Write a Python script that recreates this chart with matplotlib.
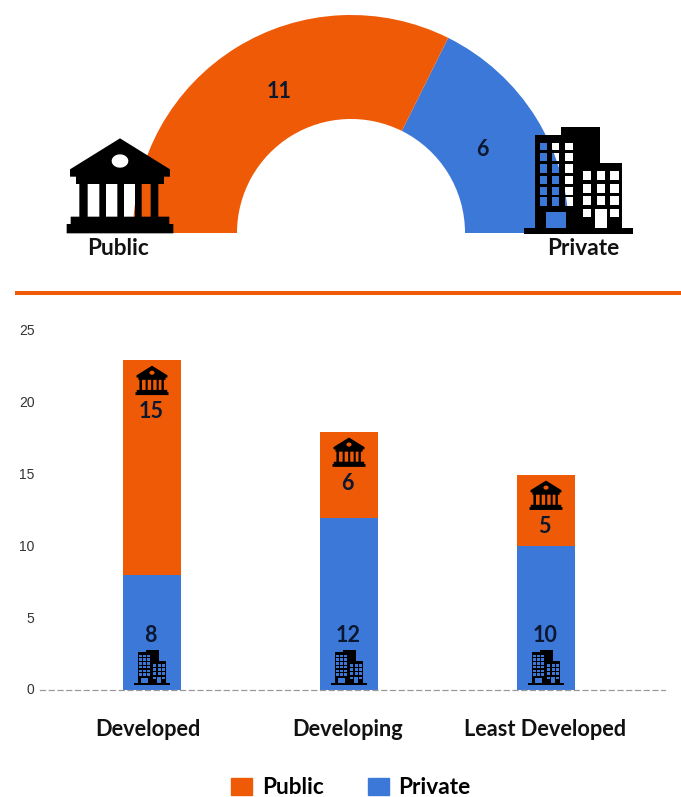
import numpy as np
import matplotlib
matplotlib.use("Agg")
import matplotlib.pyplot as plt
from matplotlib.path import Path
from matplotlib.patches import PathPatch, Patch
from matplotlib.transforms import Affine2D, ScaledTranslation

# ---- data ----
arc_labels = ["Private", "Public"]
arc_values = [6, 11]
categories = ["Developed", "Developing", "Least Developed"]
public_values = [15, 6, 5]
private_values = [8, 12, 10]
y_ticks = [0, 5, 10, 15, 20, 25]

ORANGE = "#EE5A05"
BLUE = "#3C78D8"
INK = "#0C1730"
W, H = 681, 797
plt.rcParams["font.family"] = ["Lato", "DejaVu Sans"]


def fx(px):
    return px / W


def fy(py):
    return 1 - py / H


def axes_px(left, top, right, bottom):
    return fig.add_axes([fx(left), fy(bottom), (right - left) / W, (bottom - top) / H])


def ring(points, hole=False):
    p = np.asarray(points, float)
    area = 0.5 * np.sum(p[:, 0] * np.roll(p[:, 1], -1) - np.roll(p[:, 0], -1) * p[:, 1])
    if (area > 0) == hole:
        p = p[::-1]
    verts = np.vstack([p, p[0]])
    codes = [Path.MOVETO] + [Path.LINETO] * (len(p) - 1) + [Path.CLOSEPOLY]
    return verts, codes


def box(x0, y0, x1, y1, hole=False):
    return ring([(x0, y0), (x1, y0), (x1, y1), (x0, y1)], hole)


def compound(parts):
    return Path(np.vstack([v for v, _ in parts]), sum((c for _, c in parts), []))


def bank_icon():
    outline = [(240, 85), (390, 178), (390, 200), (372, 200), (372, 222), (355, 222),
               (355, 320), (388, 320), (388, 342), (400, 342), (400, 370), (80, 370),
               (80, 342), (92, 342), (92, 320), (118, 320), (118, 222), (108, 222),
               (108, 200), (90, 200), (90, 178)]
    parts = [ring(outline)]
    for a, b in [(143, 178), (198, 232), (252, 285), (305, 332)]:
        parts.append(box(a, 222, b, 320, True))
    t = np.linspace(0, 2 * np.pi, 40, endpoint=False)
    parts.append(ring(np.c_[240 + 25 * np.cos(t), 153 + 20 * np.sin(t)], True))
    return compound(parts)


def building_icon():
    outline = [(105, 353), (105, 76), (182, 76), (182, 50), (300, 50), (300, 158),
               (366, 158), (366, 353)]
    parts = [ring(outline), box(72, 353, 400, 372)]
    for y0, y1 in [(98, 120), (128, 154), (163, 188), (197, 222), (232, 256), (262, 288)]:
        for x0, x1 in [(121, 142), (157, 178), (195, 220)]:
            parts.append(box(x0, y0, x1, y1, True))
    for y0, y1 in [(184, 210), (222, 248), (258, 284)]:
        for x0, x1 in [(248, 274), (290, 315), (330, 356)]:
            parts.append(box(x0, y0, x1, y1, True))
    for x0, x1 in [(248, 274), (330, 356)]:
        parts.append(box(x0, 296, x1, 322, True))
    parts.append(box(137, 305, 198, 353, True))
    parts.append(box(285, 297, 320, 353, True))
    return compound(parts)


fig = plt.figure(figsize=(W / 100, H / 100), dpi=100, facecolor="white")

# ---- half ring ----
ax_arc = axes_px(133, 15, 569, 451)
ax_arc.pie(arc_values + [sum(arc_values)], colors=[BLUE, ORANGE, "none"], startangle=0,
           radius=1, wedgeprops=dict(width=0.477, linewidth=0))
ax_arc.set_xlim(-1, 1)
ax_arc.set_ylim(-1, 1)

# ---- stacked bars ----
PX_PER_CAT = 197.0
left_px, right_px = 40, 665
ax = axes_px(left_px, 331, right_px, 690)
x = np.arange(len(categories))
ax.bar(x, private_values, width=58 / PX_PER_CAT, color=BLUE, label="Private", zorder=2)
ax.bar(x, public_values, width=58 / PX_PER_CAT, bottom=private_values, color=ORANGE,
       label="Public", zorder=2)
ax.set_xlim((left_px - 152) / PX_PER_CAT, (right_px - 152) / PX_PER_CAT)
ax.set_ylim(0, 25)
ax.set_yticks(y_ticks)
ax.set_xticks(x, categories)
for s in ["top", "left", "right"]:
    ax.spines[s].set_visible(False)
ax.spines["bottom"].set_linestyle((0, (4, 3)))
ax.spines["bottom"].set_color("#9a9a9a")
ax.spines["bottom"].set_linewidth(0.9)
ax.spines["bottom"].set_zorder(3)
ax.tick_params(axis="y", length=0, pad=4, labelsize=10, labelcolor="#333333")
ax.tick_params(axis="x", length=0, pad=21, labelsize=15.7)
for lab in ax.get_yticklabels():
    lab.set_fontfamily(["Liberation Sans"])
    lab.set_transform(lab.get_transform() + Affine2D().translate(0, 1))
for lab in ax.get_xticklabels():
    lab.set_fontweight("bold")
    lab.set_color("#111111")
for lab, dx in zip(ax.get_xticklabels(), [-4, -1, -1]):
    lab.set_transform(lab.get_transform() + Affine2D().translate(dx, 0))

bank = bank_icon()
building = building_icon()
for xi, pub, pri in zip(x, public_values, private_values):
    total = pub + pri
    bank_tf = (Affine2D().translate(-240, -85).scale(0.103, -0.103).translate(0, -6)
               + ScaledTranslation(xi, total, ax.transData))
    ax.add_artist(PathPatch(bank, transform=bank_tf, fc="black", lw=0, zorder=4, clip_on=False))
    bld_tf = (Affine2D().translate(-236, -372).scale(0.11, -0.11).translate(0, 5)
              + ScaledTranslation(xi, 0, ax.transData))
    ax.add_artist(PathPatch(building, transform=bld_tf, fc="black", lw=0, zorder=4, clip_on=False))
    ax.annotate(str(pub), (xi, total), xytext=(-1, -52 * 0.72), textcoords="offset points",
                ha="center", va="center", fontsize=15.5, fontweight="bold", color=INK, zorder=5)
    ax.annotate(str(pri), (xi, 0), xytext=(-1, 55 * 0.72), textcoords="offset points",
                ha="center", va="center", fontsize=15.5, fontweight="bold", color=INK, zorder=5)

# ---- overlay in pixel space: icons, rule, captions ----
ov = fig.add_axes([0, 0, 1, 1], facecolor="none")
ov.set_xlim(0, W)
ov.set_ylim(H, 0)
ov.axis("off")
ov.add_patch(PathPatch(bank, fc="black", lw=0,
                       transform=Affine2D().scale(1 / 3).translate(40, 110) + ov.transData))
ov.add_patch(PathPatch(building, fc="black", lw=0,
                       transform=Affine2D().scale(1 / 3).translate(500, 110) + ov.transData))
ov.plot([15, 681], [293, 293], color=ORANGE, lw=2.9, solid_capstyle="butt")
ov.text(279, 91, str(arc_values[1]), ha="center", va="center", fontsize=15.5, color=INK, fontweight="bold")
ov.text(482, 149, str(arc_values[0]), ha="center", va="center", fontsize=15.5, color=INK, fontweight="bold")
ov.text(118, 248, "Public", ha="center", va="center", fontsize=16.3, fontweight="bold", color="#111111")
ov.text(583, 248, "Private", ha="center", va="center", fontsize=16.3, fontweight="bold", color="#111111")

# ---- legend ----
handles = [Patch(color=ORANGE, label="Public"), Patch(color=BLUE, label="Private")]
fig.legend(handles=handles, loc="lower center", bbox_to_anchor=(fx(351), fy(798.5)), ncol=2,
           frameon=False, handlelength=0.92, handleheight=0.78, handletextpad=0.44,
           columnspacing=1.95, borderpad=0, borderaxespad=0,
           prop=dict(weight="bold", size=16.3))

fig.savefig("out.png", dpi=100)
